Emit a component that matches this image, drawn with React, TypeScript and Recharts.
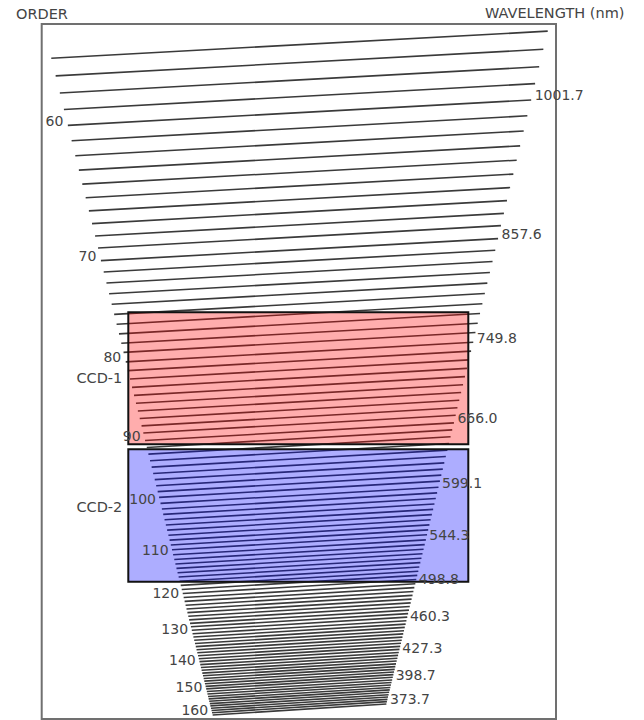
import { ComposedChart, Line, XAxis, YAxis, ReferenceArea } from "recharts";

// Echelle order layout: order number on the left end of each order,
// wavelength (nm) at the right end of every tenth order.
const ORDER_FIRST = 56;
const ORDER_LAST = 160;
const LABELLED_ORDERS = [60, 70, 80, 90, 100, 110, 120, 130, 140, 150, 160];
const EDGE_WAVELENGTHS = [1001.7, 857.6, 749.8, 666.0, 599.1, 544.3, 498.8, 460.3, 427.3, 398.7, 373.7];

// Detector footprints (x along the order, y in nm of cross-dispersion)
const CCD_NAMES = ["CCD-1", "CCD-2"];
const CCD_X = [
  [-171.2, 168.8],
  [-171.2, 168.8],
];
const CCD_NM = [
  [643.7, 781.0],
  [500.9, 638.5],
];

const X_DOMAIN: [number, number] = [-257.8, 256.5];
const Y_DOMAIN: [number, number] = [358.1, 1080.7];

// order length shrinks as 1/m; orders tilt a little more as they get shorter
const ORDER_SPAN = 13900;
const tiltFor = (half: number) => 2.44 + 0.1034 * half;

const FONT = '"DejaVu Sans", Verdana, sans-serif';
const TEXT = "#444";
const LINE = "#3a3a3a";

const orders = Array.from({ length: ORDER_LAST - ORDER_FIRST + 1 }, (_, i) => ORDER_FIRST + i);

// grating equation: m * lambda is constant within each labelled decade
const edgeNm = (m: number) => {
  const i = Math.min(LABELLED_ORDERS.length - 1, Math.max(0, Math.floor((m - LABELLED_ORDERS[0]) / 10)));
  return (EDGE_WAVELENGTHS[i] * LABELLED_ORDERS[i]) / m;
};

const orderSeries = orders.map((m) => {
  const half = ORDER_SPAN / m;
  const right = edgeNm(m);
  const li = LABELLED_ORDERS.indexOf(m);
  return {
    order: m,
    label: li >= 0 ? EDGE_WAVELENGTHS[li].toFixed(1) : null,
    points: [
      { x: -half, y: right - tiltFor(half) },
      { x: half, y: right },
    ],
  };
});

const endLabels = (m: number, wl: string) => (p: any) => {
  const { cx, cy, index } = p;
  if (cx == null || cy == null) return <g key={`e${m}-${index}`} />;
  return index === 0 ? (
    <text key={`o${m}`} x={cx - 4.5} y={cy + 0.5} textAnchor="end" fontFamily={FONT} fontSize={14} fill={TEXT}>
      {m}
    </text>
  ) : (
    <text key={`w${m}`} x={cx + 3.5} y={cy + 0.5} textAnchor="start" fontFamily={FONT} fontSize={14} fill={TEXT}>
      {wl}
    </text>
  );
};

const ccdLabel = (name: string, dy: number) => (p: any) => {
  const vb = p.viewBox || {};
  return (
    <text x={vb.x - 6} y={vb.y + dy} textAnchor="end" fontFamily={FONT} fontSize={14.5} fill={TEXT}>
      {name}
    </text>
  );
};
const CCD_LABEL_DY = [71, 62.7];
const CCD_FILL = ["#ff0000", "#0000ff"];

export default function App() {
  return (
    <div style={{ position: "fixed", left: 0, top: 0, width: 644, height: 720, overflow: "hidden", background: "#fff" }}>
      <ComposedChart width={644} height={720} margin={{ top: 24, right: 88, bottom: 1, left: 41.7 }}>
        <XAxis type="number" dataKey="x" domain={X_DOMAIN} hide />
        <YAxis type="number" dataKey="y" domain={Y_DOMAIN} hide />
        <ReferenceArea
          x1={X_DOMAIN[0]}
          x2={X_DOMAIN[1]}
          y1={Y_DOMAIN[0]}
          y2={Y_DOMAIN[1]}
          fill="none"
          stroke="#707070"
          strokeWidth={2}
        />
        {orderSeries.map((s) => (
          <Line
            key={s.order}
            name={`order ${s.order}`}
            data={s.points}
            dataKey="y"
            type="linear"
            stroke={LINE}
            strokeWidth={1.6}
            dot={s.label ? endLabels(s.order, s.label) : false}
            activeDot={false}
            isAnimationActive={false}
          />
        ))}
        {CCD_NAMES.map((name, i) => (
          <ReferenceArea
            key={name}
            x1={CCD_X[i][0]}
            x2={CCD_X[i][1]}
            y1={CCD_NM[i][0]}
            y2={CCD_NM[i][1]}
            fill={CCD_FILL[i]}
            fillOpacity={0.32}
            stroke="#111"
            strokeWidth={2}
            zIndex={450}
            label={ccdLabel(name, CCD_LABEL_DY[i])}
          />
        ))}
      </ComposedChart>
      <svg width={644} height={40} style={{ position: "absolute", left: 0, top: 0, pointerEvents: "none" }}>
        <text x={16} y={19} fontFamily={FONT} fontSize={14.5} fill={TEXT}>
          ORDER
        </text>
        <text x={485} y={18} fontFamily={FONT} fontSize={14.5} fill={TEXT}>
          WAVELENGTH (nm)
        </text>
      </svg>
    </div>
  );
}
